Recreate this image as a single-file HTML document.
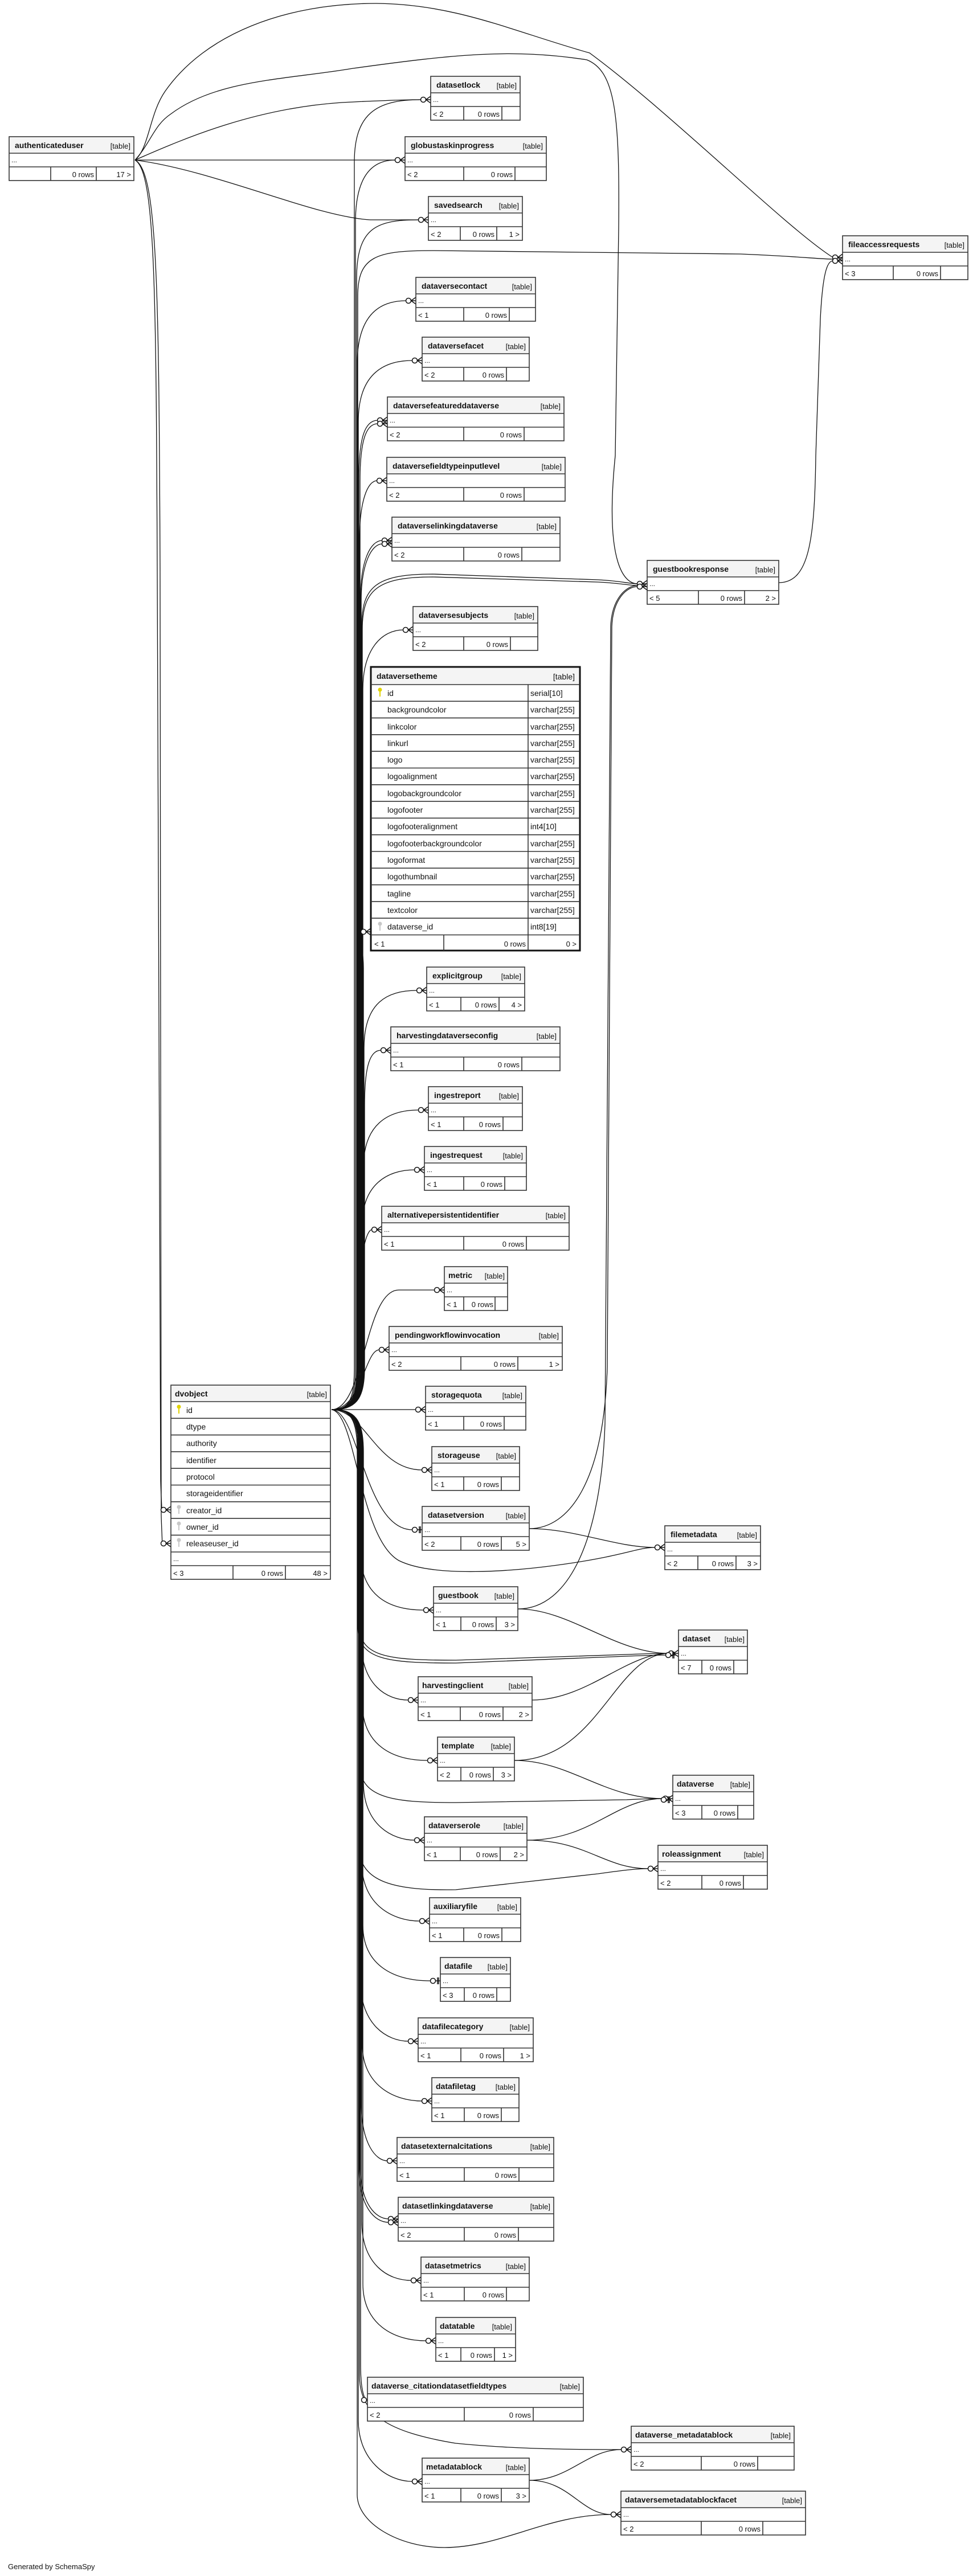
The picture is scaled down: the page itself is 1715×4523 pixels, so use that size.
<!DOCTYPE html>
<html><head><meta charset="utf-8"><style>
html,body{margin:0;padding:0;background:#fff}
svg{display:block}
.b{fill:#fff;stroke:#333;stroke-width:1.6}
.h{fill:#f4f4f4;stroke:none}
.l{stroke:#333;stroke-width:1.6;fill:none}
text{font-family:"Liberation Sans",Arial,sans-serif;fill:#111}
.n{font-size:14px;font-weight:bold}
.t{font-size:13px;text-anchor:end}
.d{font-size:12px}
.f{font-size:13px}
.r{text-anchor:end}
.fl{font-size:14px}
.e{fill:none;stroke:#111;stroke-width:1.3}
</style></head><body>
<svg width="1715" height="4523" viewBox="0 0 1715 4523" xmlns="http://www.w3.org/2000/svg">
<defs>
<g id="cf"><path d="M-8.5 0L0 -6M-8.5 0L0 0M-8.5 0L0 6" stroke="#111" stroke-width="1.5" fill="none"/><circle cx="-13" cy="0" r="4.5" fill="#fff" stroke="#111" stroke-width="1.5"/></g>
<g id="zo"><path d="M-8.5 0L0 0M-5 -6V6M-3 -6V6" stroke="#111" stroke-width="1.5" fill="none"/><circle cx="-13" cy="0" r="4.5" fill="#fff" stroke="#111" stroke-width="1.5"/></g>
</defs>

<!-- ============ EDGES ============ -->
<g class="e">
<!-- authenticateduser -->
<path d="M237 281C330 240 450 190 600 180C680 176 720 175 739 175"/>
<path d="M237 281L694 281"/>
<path d="M237 281C380 300 550 380 650 386L735 386"/>
<path d="M237 281C262 260 262 200 290 160C360 60 500 6 660 6C800 7 900 55 1035 93C1180 200 1380 400 1462 452"/>
<path d="M237 281C265 250 270 220 300 200C380 140 500 140 620 120C800 95 900 85 1030 105C1080 125 1088 200 1086 400L1080 800C1060 1000 1100 1025 1119 1025"/>
<path d="M237 281C272 300 274 500 276 1000L282 2600C283 2640 285 2651 283 2651"/>
<path d="M237 281C276 300 279 500 281 1000L283 2660C284 2700 286 2710 283 2710"/>

<!-- dvobject fan (above) -->
<path d="M582 2475C612 2475 622 2460 622 2400L622 285C622 200 660 175 739 175"/>
<path d="M582 2475C614 2475 624 2460 624 2400L624 390C624 300 660 281 694 281"/>
<path d="M582 2475C615 2475 626 2460 626 2400L626 490C626 400 660 386 735 386"/>
<path d="M582 2475C616 2475 628 2460 628 2400L628 520C628 450 660 440 760 440L1300 446C1400 450 1440 455 1462 455"/>
<path d="M582 2475C616 2475 627 2460 627 2400L627 640C627 560 660 528 713 528"/>
<path d="M582 2475C617 2475 629 2460 629 2400L629 740C629 660 670 633 724 633"/>
<path d="M582 2475C618 2475 630 2460 630 2400L630 840C630 770 640 738 663 738"/>
<path d="M582 2475C618 2475 632 2460 632 2400L632 845C632 775 642 744 663 744"/>
<path d="M582 2475C619 2475 631 2460 631 2400L631 950C631 880 645 844 662 844"/>
<path d="M582 2475C619 2475 633 2460 633 2400L633 1050C633 985 650 949 671 949"/>
<path d="M582 2475C620 2475 634 2460 634 2400L634 1055C634 990 652 955 671 955"/>
<path d="M582 2475C620 2475 635 2460 635 2400L635 1100C635 1030 660 1008 760 1008L1050 1018C1090 1020 1105 1025 1119 1025"/>
<path d="M582 2475C621 2475 636 2460 636 2400L636 1105C636 1036 662 1013 760 1013L1050 1022C1090 1024 1105 1028 1119 1028"/>
<path d="M582 2475C621 2475 637 2460 637 2400L637 1210C637 1140 670 1106 708 1106"/>
<path d="M582 2475C622 2475 638 2460 638 2400L638 1700C638 1660 628 1636 634 1636"/>
<path d="M582 2475C622 2475 639 2460 639 2400L639 1840C639 1760 680 1739 732 1739"/>
<path d="M582 2475C623 2475 640 2460 640 2400L640 1940C640 1870 650 1844 669 1844"/>
<path d="M582 2475C623 2475 638 2460 638 2400L638 2050C638 1975 680 1949 735 1949"/>
<path d="M582 2475C624 2475 636 2460 636 2400L636 2150C636 2080 680 2054 728 2054"/>
<path d="M582 2475C624 2475 634 2460 634 2400L634 2250C634 2190 645 2159 653 2159"/>
<path d="M582 2475C640 2475 640 2265 700 2265L763 2265"/>
<path d="M582 2475C635 2475 640 2370 666 2370"/>
<path d="M582 2475L730 2475"/>
<!-- below -->
<path d="M582 2475C640 2475 660 2581 741 2581"/>
<path d="M582 2475C630 2475 640 2686 724 2686"/>
<path d="M582 2475C625 2480 630 2700 700 2740C760 2770 900 2760 1000 2745C1100 2730 1120 2717 1150 2717"/>
<path d="M582 2475C625 2475 632 2490 632 2550L632 2720C632 2800 680 2827 744 2827"/>
<path d="M582 2475C624 2475 630 2490 630 2550L630 2850C630 2910 680 2915 800 2915L1100 2905C1150 2903 1165 2903 1174 2903"/>
<path d="M582 2475C624 2475 628 2490 628 2550L628 2855C628 2915 680 2920 800 2920L1100 2908C1150 2906 1165 2906 1174 2906"/>
<path d="M582 2475C623 2475 634 2490 634 2550L634 2880C634 2960 680 2985 717 2985"/>
<path d="M582 2475C623 2475 636 2490 636 2550L636 2990C636 3065 690 3091 751 3091"/>
<path d="M582 2475C622 2475 632 2490 632 2550L632 3100C632 3160 700 3165 800 3165L1100 3160C1140 3158 1155 3158 1164 3158"/>
<path d="M582 2475C622 2475 638 2490 638 2550L638 3130C638 3205 690 3231 728 3231"/>
<path d="M582 2475C621 2475 630 2490 630 2550L630 3240C630 3300 680 3320 800 3318L1050 3290C1100 3283 1120 3281 1138 3281"/>
<path d="M582 2475C621 2475 635 2490 635 2550L635 3270C635 3345 690 3373 737 3373"/>
<path d="M582 2475C620 2475 637 2490 637 2550L637 3380C637 3450 690 3478 756 3478"/>
<path d="M582 2475C620 2475 633 2490 633 2550L633 3480C633 3555 680 3584 717 3584"/>
<path d="M582 2475C619 2475 636 2490 636 2550L636 3590C636 3660 690 3689 741 3689"/>
<path d="M582 2475C619 2475 634 2490 634 2550L634 3690C634 3765 660 3794 680 3794"/>
<path d="M582 2475C618 2475 632 2490 632 2550L632 3800C632 3870 660 3896 682 3896"/>
<path d="M582 2475C618 2475 630 2490 630 2550L630 3805C630 3875 658 3902 682 3902"/>
<path d="M582 2475C617 2475 635 2490 635 2550L635 3900C635 3975 680 4004 722 4004"/>
<path d="M582 2475C617 2475 637 2490 637 2550L637 4010C637 4080 690 4110 748 4110"/>
<path d="M582 2475C616 2475 633 2490 633 2550L633 4150C633 4185 636 4200 640 4210"/>
<path d="M582 2475C616 2475 631 2490 631 2550L631 4170C631 4240 680 4270 800 4290C900 4300 1000 4301 1091 4301"/>
<path d="M582 2475C615 2475 629 2490 629 2550L629 4250C629 4320 680 4357 724 4357"/>
<path d="M582 2475C615 2475 627 2490 627 2550L627 4380C627 4430 700 4473 780 4473C880 4473 960 4415 1073 4415"/>

<!-- guestbookresponse / fileaccessrequests -->
<path d="M909 2825C1000 2825 1055 2700 1062 2500L1072 1100C1074 1050 1100 1028 1119 1028"/>
<path d="M929 2684C1000 2684 1060 2600 1066 2400L1074 1100C1076 1052 1100 1030 1119 1030"/>
<path d="M1367 1023C1420 1023 1430 950 1432 800L1440 560C1444 480 1452 458 1462 458"/>
<!-- mid -> right -->
<path d="M929 2684C1010 2684 1080 2717 1150 2717"/>
<path d="M909 2825C1000 2825 1080 2903 1174 2903"/>
<path d="M934 2985C1030 2985 1100 2903 1174 2903"/>
<path d="M903 3091C1050 3091 1080 2903 1174 2903"/>
<path d="M903 3091C1000 3091 1060 3158 1164 3158"/>
<path d="M925 3231C1040 3231 1080 3158 1164 3158"/>
<path d="M925 3231C1030 3231 1060 3281 1138 3281"/>
<path d="M929 4355C1000 4355 1030 4301 1091 4301"/>
<path d="M929 4355C1000 4355 1020 4415 1073 4415"/>
</g>

<!-- ============ MARKS ============ -->
<use href="#cf" x="756" y="175"/>
<use href="#cf" x="711" y="281"/>
<use href="#cf" x="752" y="386"/>
<use href="#cf" x="1479" y="452"/>
<use href="#cf" x="1479" y="458"/>
<use href="#cf" x="730" y="528"/>
<use href="#cf" x="741" y="633"/>
<use href="#cf" x="680" y="738"/>
<use href="#cf" x="680" y="744"/>
<use href="#cf" x="679" y="844"/>
<use href="#cf" x="688" y="949"/>
<use href="#cf" x="688" y="955"/>
<use href="#cf" x="1136" y="1025"/>
<use href="#cf" x="1136" y="1030"/>
<use href="#cf" x="725" y="1106"/>
<use href="#cf" x="651" y="1636"/>
<use href="#cf" x="749" y="1739"/>
<use href="#cf" x="686" y="1844"/>
<use href="#cf" x="752" y="1949"/>
<use href="#cf" x="745" y="2054"/>
<use href="#cf" x="670" y="2159"/>
<use href="#cf" x="780" y="2265"/>
<use href="#cf" x="683" y="2370"/>
<use href="#cf" x="747" y="2475"/>
<use href="#cf" x="758" y="2581"/>
<use href="#zo" x="741" y="2686"/>
<use href="#cf" x="1167" y="2717"/>
<use href="#cf" x="761" y="2827"/>
<use href="#cf" x="1191" y="2903"/>
<use href="#zo" x="1186" y="2906"/>
<use href="#cf" x="734" y="2985"/>
<use href="#cf" x="768" y="3091"/>
<use href="#cf" x="1181" y="3158"/>
<use href="#zo" x="1178" y="3160"/>
<use href="#cf" x="745" y="3231"/>
<use href="#cf" x="1155" y="3281"/>
<use href="#cf" x="754" y="3373"/>
<use href="#zo" x="773" y="3478"/>
<use href="#cf" x="734" y="3584"/>
<use href="#cf" x="758" y="3689"/>
<use href="#cf" x="697" y="3794"/>
<use href="#cf" x="699" y="3896"/>
<use href="#cf" x="699" y="3902"/>
<use href="#cf" x="739" y="4004"/>
<use href="#cf" x="765" y="4110"/>
<use href="#cf" x="652" y="4214"/>
<use href="#cf" x="1108" y="4301"/>
<use href="#cf" x="741" y="4357"/>
<use href="#cf" x="1090" y="4415"/>
<use href="#cf" x="300" y="2651"/>
<use href="#cf" x="300" y="2710"/>

<!-- ============ TABLES ============ -->
<g transform="translate(16,240)"><rect width="219" height="77" class="b"/><rect x="1" y="1" width="217" height="28" class="h"/><path d="M0 29H219M0 53H219M73 53V77M153 53V77" class="l"/><text x="10" y="20" class="n">authenticateduser</text><text x="213" y="21" class="t">[table]</text><text x="4" y="45" class="d">...</text><text x="149" y="71" class="f r">0 rows</text><text x="214" y="71" class="f r">17 &gt;</text></g>

<g transform="translate(756,134)"><rect width="157" height="77" class="b"/><rect x="1" y="1" width="155" height="28" class="h"/><path d="M0 29H157M0 53H157M58 53V77M125 53V77" class="l"/><text x="10" y="20" class="n">datasetlock</text><text x="151" y="21" class="t">[table]</text><text x="4" y="45" class="d">...</text><text x="4" y="71" class="f">&lt; 2</text><text x="121" y="71" class="f r">0 rows</text></g>

<g transform="translate(711,240)"><rect width="248" height="77" class="b"/><rect x="1" y="1" width="246" height="28" class="h"/><path d="M0 29H248M0 53H248M103 53V77M193 53V77" class="l"/><text x="10" y="20" class="n">globustaskinprogress</text><text x="242" y="21" class="t">[table]</text><text x="4" y="45" class="d">...</text><text x="4" y="71" class="f">&lt; 2</text><text x="189" y="71" class="f r">0 rows</text></g>

<g transform="translate(752,345)"><rect width="165" height="77" class="b"/><rect x="1" y="1" width="163" height="28" class="h"/><path d="M0 29H165M0 53H165M56 53V77M120 53V77" class="l"/><text x="10" y="20" class="n">savedsearch</text><text x="159" y="21" class="t">[table]</text><text x="4" y="45" class="d">...</text><text x="4" y="71" class="f">&lt; 2</text><text x="116" y="71" class="f r">0 rows</text><text x="160" y="71" class="f r">1 &gt;</text></g>

<g transform="translate(1479,414)"><rect width="220" height="77" class="b"/><rect x="1" y="1" width="218" height="28" class="h"/><path d="M0 29H220M0 53H220M89 53V77M172 53V77" class="l"/><text x="10" y="20" class="n">fileaccessrequests</text><text x="214" y="21" class="t">[table]</text><text x="4" y="45" class="d">...</text><text x="4" y="71" class="f">&lt; 3</text><text x="168" y="71" class="f r">0 rows</text></g>

<g transform="translate(730,487)"><rect width="210" height="77" class="b"/><rect x="1" y="1" width="208" height="28" class="h"/><path d="M0 29H210M0 53H210M84 53V77M164 53V77" class="l"/><text x="10" y="20" class="n">dataversecontact</text><text x="204" y="21" class="t">[table]</text><text x="4" y="45" class="d">...</text><text x="4" y="71" class="f">&lt; 1</text><text x="160" y="71" class="f r">0 rows</text></g>

<g transform="translate(741,592)"><rect width="188" height="77" class="b"/><rect x="1" y="1" width="186" height="28" class="h"/><path d="M0 29H188M0 53H188M73 53V77M148 53V77" class="l"/><text x="10" y="20" class="n">dataversefacet</text><text x="182" y="21" class="t">[table]</text><text x="4" y="45" class="d">...</text><text x="4" y="71" class="f">&lt; 2</text><text x="144" y="71" class="f r">0 rows</text></g>

<g transform="translate(680,697)"><rect width="310" height="77" class="b"/><rect x="1" y="1" width="308" height="28" class="h"/><path d="M0 29H310M0 53H310M134 53V77M240 53V77" class="l"/><text x="10" y="20" class="n">dataversefeatureddataverse</text><text x="304" y="21" class="t">[table]</text><text x="4" y="45" class="d">...</text><text x="4" y="71" class="f">&lt; 2</text><text x="236" y="71" class="f r">0 rows</text></g>

<g transform="translate(679,803)"><rect width="313" height="77" class="b"/><rect x="1" y="1" width="311" height="28" class="h"/><path d="M0 29H313M0 53H313M135 53V77M241 53V77" class="l"/><text x="10" y="20" class="n">dataversefieldtypeinputlevel</text><text x="307" y="21" class="t">[table]</text><text x="4" y="45" class="d">...</text><text x="4" y="71" class="f">&lt; 2</text><text x="237" y="71" class="f r">0 rows</text></g>

<g transform="translate(688,908)"><rect width="295" height="77" class="b"/><rect x="1" y="1" width="293" height="28" class="h"/><path d="M0 29H295M0 53H295M126 53V77M228 53V77" class="l"/><text x="10" y="20" class="n">dataverselinkingdataverse</text><text x="289" y="21" class="t">[table]</text><text x="4" y="45" class="d">...</text><text x="4" y="71" class="f">&lt; 2</text><text x="224" y="71" class="f r">0 rows</text></g>

<g transform="translate(1136,984)"><rect width="231" height="77" class="b"/><rect x="1" y="1" width="229" height="28" class="h"/><path d="M0 29H231M0 53H231M90 53V77M171 53V77" class="l"/><text x="10" y="20" class="n">guestbookresponse</text><text x="225" y="21" class="t">[table]</text><text x="4" y="45" class="d">...</text><text x="4" y="71" class="f">&lt; 5</text><text x="167" y="71" class="f r">0 rows</text><text x="226" y="71" class="f r">2 &gt;</text></g>

<g transform="translate(725,1065)"><rect width="219" height="77" class="b"/><rect x="1" y="1" width="217" height="28" class="h"/><path d="M0 29H219M0 53H219M89 53V77M171 53V77" class="l"/><text x="10" y="20" class="n">dataversesubjects</text><text x="213" y="21" class="t">[table]</text><text x="4" y="45" class="d">...</text><text x="4" y="71" class="f">&lt; 2</text><text x="167" y="71" class="f r">0 rows</text></g>

<!-- dataversetheme -->
<g transform="translate(651,1171)">
<rect width="367" height="498" fill="#fff" stroke="#111" stroke-width="3"/>
<rect x="2" y="2" width="363" height="29" class="h"/>
<path d="M0 31H367M0 60.3H367M0 89.6H367M0 118.9H367M0 148.2H367M0 177.5H367M0 206.8H367M0 236.1H367M0 265.4H367M0 294.7H367M0 324H367M0 353.3H367M0 382.6H367M0 411.9H367M0 441.2H367M0 470.5H367M276 31V498M128 470.5V498" class="l"/>
<text x="10" y="21" class="n">dataversetheme</text><text x="358" y="22" class="t" style="font-size:14px">[table]</text>
<g class="fl">
<text x="29" y="51" class="fl">id</text><text x="280" y="51" class="fl">serial[10]</text>
<text x="29" y="80" class="fl">backgroundcolor</text><text x="280" y="80" class="fl">varchar[255]</text>
<text x="29" y="110" class="fl">linkcolor</text><text x="280" y="110" class="fl">varchar[255]</text>
<text x="29" y="139" class="fl">linkurl</text><text x="280" y="139" class="fl">varchar[255]</text>
<text x="29" y="168" class="fl">logo</text><text x="280" y="168" class="fl">varchar[255]</text>
<text x="29" y="197" class="fl">logoalignment</text><text x="280" y="197" class="fl">varchar[255]</text>
<text x="29" y="227" class="fl">logobackgroundcolor</text><text x="280" y="227" class="fl">varchar[255]</text>
<text x="29" y="256" class="fl">logofooter</text><text x="280" y="256" class="fl">varchar[255]</text>
<text x="29" y="285" class="fl">logofooteralignment</text><text x="280" y="285" class="fl">int4[10]</text>
<text x="29" y="315" class="fl">logofooterbackgroundcolor</text><text x="280" y="315" class="fl">varchar[255]</text>
<text x="29" y="344" class="fl">logoformat</text><text x="280" y="344" class="fl">varchar[255]</text>
<text x="29" y="373" class="fl">logothumbnail</text><text x="280" y="373" class="fl">varchar[255]</text>
<text x="29" y="403" class="fl">tagline</text><text x="280" y="403" class="fl">varchar[255]</text>
<text x="29" y="432" class="fl">textcolor</text><text x="280" y="432" class="fl">varchar[255]</text>
<text x="29" y="461" class="fl">dataverse_id</text><text x="280" y="461" class="fl">int8[19]</text>
</g>
<text x="6" y="491" class="f">&lt; 1</text><text x="272" y="491" class="f r">0 rows</text><text x="361" y="491" class="f r">0 &gt;</text>
<g fill="#e0d200"><circle cx="16" cy="40" r="3.5"/><rect x="15" y="40" width="2" height="12"/></g>
<g fill="#c8c8c8"><circle cx="16" cy="451" r="3.5"/><rect x="15" y="451" width="2" height="12"/></g>
</g>

<g transform="translate(749,1698)"><rect width="172" height="77" class="b"/><rect x="1" y="1" width="170" height="28" class="h"/><path d="M0 29H172M0 53H172M60 53V77M127 53V77" class="l"/><text x="10" y="20" class="n">explicitgroup</text><text x="166" y="21" class="t">[table]</text><text x="4" y="45" class="d">...</text><text x="4" y="71" class="f">&lt; 1</text><text x="123" y="71" class="f r">0 rows</text><text x="167" y="71" class="f r">4 &gt;</text></g>

<g transform="translate(686,1803)"><rect width="297" height="77" class="b"/><rect x="1" y="1" width="295" height="28" class="h"/><path d="M0 29H297M0 53H297M128 53V77M230 53V77" class="l"/><text x="10" y="20" class="n">harvestingdataverseconfig</text><text x="291" y="21" class="t">[table]</text><text x="4" y="45" class="d">...</text><text x="4" y="71" class="f">&lt; 1</text><text x="226" y="71" class="f r">0 rows</text></g>

<g transform="translate(752,1908)"><rect width="165" height="77" class="b"/><rect x="1" y="1" width="163" height="28" class="h"/><path d="M0 29H165M0 53H165M62 53V77M131 53V77" class="l"/><text x="10" y="20" class="n">ingestreport</text><text x="159" y="21" class="t">[table]</text><text x="4" y="45" class="d">...</text><text x="4" y="71" class="f">&lt; 1</text><text x="127" y="71" class="f r">0 rows</text></g>

<g transform="translate(745,2013)"><rect width="179" height="77" class="b"/><rect x="1" y="1" width="177" height="28" class="h"/><path d="M0 29H179M0 53H179M69 53V77M141 53V77" class="l"/><text x="10" y="20" class="n">ingestrequest</text><text x="173" y="21" class="t">[table]</text><text x="4" y="45" class="d">...</text><text x="4" y="71" class="f">&lt; 1</text><text x="137" y="71" class="f r">0 rows</text></g>

<g transform="translate(670,2118)"><rect width="329" height="77" class="b"/><rect x="1" y="1" width="327" height="28" class="h"/><path d="M0 29H329M0 53H329M144 53V77M254 53V77" class="l"/><text x="10" y="20" class="n">alternativepersistentidentifier</text><text x="323" y="21" class="t">[table]</text><text x="4" y="45" class="d">...</text><text x="4" y="71" class="f">&lt; 1</text><text x="250" y="71" class="f r">0 rows</text></g>

<g transform="translate(780,2224)"><rect width="111" height="77" class="b"/><rect x="1" y="1" width="109" height="28" class="h"/><path d="M0 29H111M0 53H111M34 53V77M89 53V77" class="l"/><text x="7" y="20" class="n">metric</text><text x="106" y="21" class="t">[table]</text><text x="4" y="45" class="d">...</text><text x="4" y="71" class="f">&lt; 1</text><text x="86" y="71" class="f r">0 rows</text></g>

<g transform="translate(683,2329)"><rect width="304" height="77" class="b"/><rect x="1" y="1" width="302" height="28" class="h"/><path d="M0 29H304M0 53H304M126 53V77M226 53V77" class="l"/><text x="10" y="20" class="n">pendingworkflowinvocation</text><text x="298" y="21" class="t">[table]</text><text x="4" y="45" class="d">...</text><text x="4" y="71" class="f">&lt; 2</text><text x="222" y="71" class="f r">0 rows</text><text x="299" y="71" class="f r">1 &gt;</text></g>

<g transform="translate(747,2434)"><rect width="176" height="77" class="b"/><rect x="1" y="1" width="174" height="28" class="h"/><path d="M0 29H176M0 53H176M67 53V77M138 53V77" class="l"/><text x="10" y="20" class="n">storagequota</text><text x="170" y="21" class="t">[table]</text><text x="4" y="45" class="d">...</text><text x="4" y="71" class="f">&lt; 1</text><text x="134" y="71" class="f r">0 rows</text></g>

<g transform="translate(758,2540)"><rect width="154" height="77" class="b"/><rect x="1" y="1" width="152" height="28" class="h"/><path d="M0 29H154M0 53H154M56 53V77M122 53V77" class="l"/><text x="10" y="20" class="n">storageuse</text><text x="148" y="21" class="t">[table]</text><text x="4" y="45" class="d">...</text><text x="4" y="71" class="f">&lt; 1</text><text x="118" y="71" class="f r">0 rows</text></g>

<g transform="translate(741,2645)"><rect width="188" height="77" class="b"/><rect x="1" y="1" width="186" height="28" class="h"/><path d="M0 29H188M0 53H188M68 53V77M139 53V77" class="l"/><text x="10" y="20" class="n">datasetversion</text><text x="182" y="21" class="t">[table]</text><text x="4" y="45" class="d">...</text><text x="4" y="71" class="f">&lt; 2</text><text x="135" y="71" class="f r">0 rows</text><text x="183" y="71" class="f r">5 &gt;</text></g>

<g transform="translate(1167,2679)"><rect width="168" height="77" class="b"/><rect x="1" y="1" width="166" height="28" class="h"/><path d="M0 29H168M0 53H168M58 53V77M125 53V77" class="l"/><text x="10" y="20" class="n">filemetadata</text><text x="162" y="21" class="t">[table]</text><text x="4" y="45" class="d">...</text><text x="4" y="71" class="f">&lt; 2</text><text x="121" y="71" class="f r">0 rows</text><text x="163" y="71" class="f r">3 &gt;</text></g>

<g transform="translate(761,2786)"><rect width="148" height="77" class="b"/><rect x="1" y="1" width="146" height="28" class="h"/><path d="M0 29H148M0 53H148M48 53V77M110 53V77" class="l"/><text x="8" y="20" class="n">guestbook</text><text x="142" y="21" class="t">[table]</text><text x="4" y="45" class="d">...</text><text x="4" y="71" class="f">&lt; 1</text><text x="106" y="71" class="f r">0 rows</text><text x="143" y="71" class="f r">3 &gt;</text></g>

<g transform="translate(1191,2862)"><rect width="121" height="77" class="b"/><rect x="1" y="1" width="119" height="28" class="h"/><path d="M0 29H121M0 53H121M41 53V77M97 53V77" class="l"/><text x="7" y="20" class="n">dataset</text><text x="116" y="21" class="t">[table]</text><text x="4" y="45" class="d">...</text><text x="4" y="71" class="f">&lt; 7</text><text x="93" y="71" class="f r">0 rows</text></g>

<g transform="translate(734,2944)"><rect width="200" height="77" class="b"/><rect x="1" y="1" width="198" height="28" class="h"/><path d="M0 29H200M0 53H200M74 53V77M149 53V77" class="l"/><text x="7" y="20" class="n">harvestingclient</text><text x="194" y="21" class="t">[table]</text><text x="4" y="45" class="d">...</text><text x="4" y="71" class="f">&lt; 1</text><text x="145" y="71" class="f r">0 rows</text><text x="195" y="71" class="f r">2 &gt;</text></g>

<g transform="translate(768,3050)"><rect width="135" height="77" class="b"/><rect x="1" y="1" width="133" height="28" class="h"/><path d="M0 29H135M0 53H135M41 53V77M98 53V77" class="l"/><text x="7" y="20" class="n">template</text><text x="129" y="21" class="t">[table]</text><text x="4" y="45" class="d">...</text><text x="4" y="71" class="f">&lt; 2</text><text x="94" y="71" class="f r">0 rows</text><text x="130" y="71" class="f r">3 &gt;</text></g>

<g transform="translate(1181,3117)"><rect width="142" height="77" class="b"/><rect x="1" y="1" width="140" height="28" class="h"/><path d="M0 29H142M0 53H142M51 53V77M114 53V77" class="l"/><text x="7" y="20" class="n">dataverse</text><text x="136" y="21" class="t">[table]</text><text x="4" y="45" class="d">...</text><text x="4" y="71" class="f">&lt; 3</text><text x="110" y="71" class="f r">0 rows</text></g>

<g transform="translate(745,3190)"><rect width="180" height="77" class="b"/><rect x="1" y="1" width="178" height="28" class="h"/><path d="M0 29H180M0 53H180M63 53V77M133 53V77" class="l"/><text x="7" y="20" class="n">dataverserole</text><text x="174" y="21" class="t">[table]</text><text x="4" y="45" class="d">...</text><text x="4" y="71" class="f">&lt; 1</text><text x="129" y="71" class="f r">0 rows</text><text x="175" y="71" class="f r">2 &gt;</text></g>

<g transform="translate(1155,3240)"><rect width="192" height="77" class="b"/><rect x="1" y="1" width="190" height="28" class="h"/><path d="M0 29H192M0 53H192M77 53V77M150 53V77" class="l"/><text x="7" y="20" class="n">roleassignment</text><text x="186" y="21" class="t">[table]</text><text x="4" y="45" class="d">...</text><text x="4" y="71" class="f">&lt; 2</text><text x="146" y="71" class="f r">0 rows</text></g>

<g transform="translate(754,3332)"><rect width="160" height="77" class="b"/><rect x="1" y="1" width="158" height="28" class="h"/><path d="M0 29H160M0 53H160M60 53V77M127 53V77" class="l"/><text x="7" y="20" class="n">auxiliaryfile</text><text x="154" y="21" class="t">[table]</text><text x="4" y="45" class="d">...</text><text x="4" y="71" class="f">&lt; 1</text><text x="123" y="71" class="f r">0 rows</text></g>

<g transform="translate(773,3437)"><rect width="123" height="77" class="b"/><rect x="1" y="1" width="121" height="28" class="h"/><path d="M0 29H123M0 53H123M42 53V77M99 53V77" class="l"/><text x="7" y="20" class="n">datafile</text><text x="118" y="21" class="t">[table]</text><text x="4" y="45" class="d">...</text><text x="4" y="71" class="f">&lt; 3</text><text x="95" y="71" class="f r">0 rows</text></g>

<g transform="translate(734,3543)"><rect width="202" height="77" class="b"/><rect x="1" y="1" width="200" height="28" class="h"/><path d="M0 29H202M0 53H202M75 53V77M150 53V77" class="l"/><text x="7" y="20" class="n">datafilecategory</text><text x="196" y="21" class="t">[table]</text><text x="4" y="45" class="d">...</text><text x="4" y="71" class="f">&lt; 1</text><text x="146" y="71" class="f r">0 rows</text><text x="197" y="71" class="f r">1 &gt;</text></g>

<g transform="translate(758,3648)"><rect width="153" height="77" class="b"/><rect x="1" y="1" width="151" height="28" class="h"/><path d="M0 29H153M0 53H153M57 53V77M122 53V77" class="l"/><text x="7" y="20" class="n">datafiletag</text><text x="147" y="21" class="t">[table]</text><text x="4" y="45" class="d">...</text><text x="4" y="71" class="f">&lt; 1</text><text x="118" y="71" class="f r">0 rows</text></g>

<g transform="translate(697,3753)"><rect width="275" height="77" class="b"/><rect x="1" y="1" width="273" height="28" class="h"/><path d="M0 29H275M0 53H275M118 53V77M214 53V77" class="l"/><text x="7" y="20" class="n">datasetexternalcitations</text><text x="269" y="21" class="t">[table]</text><text x="4" y="45" class="d">...</text><text x="4" y="71" class="f">&lt; 1</text><text x="210" y="71" class="f r">0 rows</text></g>

<g transform="translate(699,3858)"><rect width="273" height="77" class="b"/><rect x="1" y="1" width="271" height="28" class="h"/><path d="M0 29H273M0 53H273M116 53V77M211 53V77" class="l"/><text x="7" y="20" class="n">datasetlinkingdataverse</text><text x="267" y="21" class="t">[table]</text><text x="4" y="45" class="d">...</text><text x="4" y="71" class="f">&lt; 2</text><text x="207" y="71" class="f r">0 rows</text></g>

<g transform="translate(739,3963)"><rect width="190" height="77" class="b"/><rect x="1" y="1" width="188" height="28" class="h"/><path d="M0 29H190M0 53H190M76 53V77M150 53V77" class="l"/><text x="7" y="20" class="n">datasetmetrics</text><text x="184" y="21" class="t">[table]</text><text x="4" y="45" class="d">...</text><text x="4" y="71" class="f">&lt; 1</text><text x="146" y="71" class="f r">0 rows</text></g>

<g transform="translate(765,4069)"><rect width="140" height="77" class="b"/><rect x="1" y="1" width="138" height="28" class="h"/><path d="M0 29H140M0 53H140M44 53V77M103 53V77" class="l"/><text x="7" y="20" class="n">datatable</text><text x="134" y="21" class="t">[table]</text><text x="4" y="45" class="d">...</text><text x="4" y="71" class="f">&lt; 1</text><text x="99" y="71" class="f r">0 rows</text><text x="135" y="71" class="f r">1 &gt;</text></g>

<g transform="translate(645,4174)"><rect width="379" height="77" class="b"/><rect x="1" y="1" width="377" height="28" class="h"/><path d="M0 29H379M0 53H379M170 53V77M291 53V77" class="l"/><text x="7" y="20" class="n">dataverse_citationdatasetfieldtypes</text><text x="373" y="21" class="t">[table]</text><text x="4" y="45" class="d">...</text><text x="4" y="71" class="f">&lt; 2</text><text x="287" y="71" class="f r">0 rows</text></g>

<g transform="translate(1108,4260)"><rect width="286" height="77" class="b"/><rect x="1" y="1" width="284" height="28" class="h"/><path d="M0 29H286M0 53H286M123 53V77M222 53V77" class="l"/><text x="7" y="20" class="n">dataverse_metadatablock</text><text x="280" y="21" class="t">[table]</text><text x="4" y="45" class="d">...</text><text x="4" y="71" class="f">&lt; 2</text><text x="218" y="71" class="f r">0 rows</text></g>

<g transform="translate(741,4316)"><rect width="188" height="77" class="b"/><rect x="1" y="1" width="186" height="28" class="h"/><path d="M0 29H188M0 53H188M68 53V77M139 53V77" class="l"/><text x="7" y="20" class="n">metadatablock</text><text x="182" y="21" class="t">[table]</text><text x="4" y="45" class="d">...</text><text x="4" y="71" class="f">&lt; 1</text><text x="135" y="71" class="f r">0 rows</text><text x="183" y="71" class="f r">3 &gt;</text></g>

<g transform="translate(1090,4374)"><rect width="324" height="77" class="b"/><rect x="1" y="1" width="322" height="28" class="h"/><path d="M0 29H324M0 53H324M141 53V77M249 53V77" class="l"/><text x="7" y="20" class="n">dataversemetadatablockfacet</text><text x="318" y="21" class="t">[table]</text><text x="4" y="45" class="d">...</text><text x="4" y="71" class="f">&lt; 2</text><text x="245" y="71" class="f r">0 rows</text></g>

<!-- dvobject -->
<g transform="translate(300,2432)">
<rect width="280" height="341" class="b"/><rect x="1" y="1" width="278" height="28" class="h"/>
<path d="M0 29H280M0 58.3H280M0 87.6H280M0 116.9H280M0 146.2H280M0 175.5H280M0 204.8H280M0 234.1H280M0 263.4H280M0 293H280M0 317H280M109 317V341M201 317V341" class="l"/>
<text x="7" y="20" class="n">dvobject</text><text x="274" y="21" class="t">[table]</text>
<text x="27" y="49" class="fl">id</text>
<text x="27" y="78" class="fl">dtype</text>
<text x="27" y="107" class="fl">authority</text>
<text x="27" y="137" class="fl">identifier</text>
<text x="27" y="166" class="fl">protocol</text>
<text x="27" y="195" class="fl">storageidentifier</text>
<text x="27" y="225" class="fl">creator_id</text>
<text x="27" y="254" class="fl">owner_id</text>
<text x="27" y="283" class="fl">releaseuser_id</text>
<text x="4" y="309" class="d">...</text>
<text x="4" y="335" class="f">&lt; 3</text><text x="197" y="335" class="f r">0 rows</text><text x="275" y="335" class="f r">48 &gt;</text>
<g fill="#e0d200"><circle cx="14" cy="38" r="3.5"/><rect x="13" y="38" width="2" height="12"/></g>
<g fill="#c8c8c8"><circle cx="14" cy="214" r="3.5"/><rect x="13" y="214" width="2" height="12"/><circle cx="14" cy="243" r="3.5"/><rect x="13" y="243" width="2" height="12"/><circle cx="14" cy="272" r="3.5"/><rect x="13" y="272" width="2" height="12"/></g>
</g>

<text x="14" y="4511" style="font-size:13px">Generated by SchemaSpy</text>
</svg>
</body></html>
